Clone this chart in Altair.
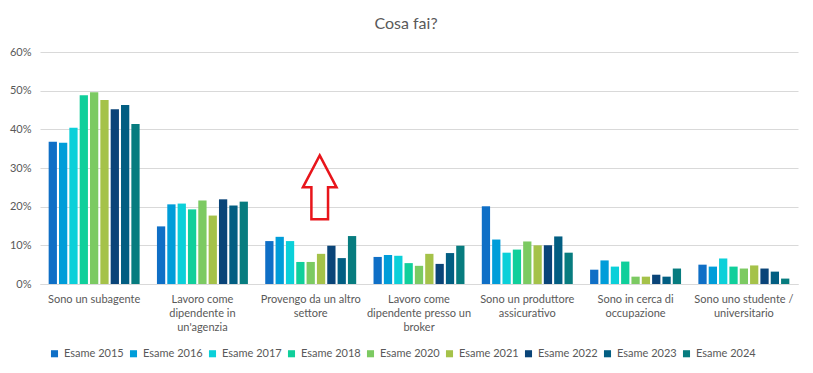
import altair as alt
import pandas as pd

categories = [
    "Sono un subagente",
    "Lavoro come|dipendente in|un'agenzia",
    "Provengo da un altro|settore",
    "Lavoro come|dipendente presso un|broker",
    "Sono un produttore|assicurativo",
    "Sono in cerca di|occupazione",
    "Sono uno studente /|universitario",
]
years = ["Esame 2015", "Esame 2016", "Esame 2017", "Esame 2018", "Esame 2020",
         "Esame 2021", "Esame 2022", "Esame 2023", "Esame 2024"]
colors = ["#0F6FC6", "#009DD9", "#0BD0D9", "#10CF9B", "#7CCA62",
          "#A5C249", "#0A4478", "#025E82", "#077C7F"]
y_ticks = [0, 0.1, 0.2, 0.3, 0.4, 0.5, 0.6]

# values per category, one per year (fraction)
v_subagente = [0.368, 0.365, 0.404, 0.488, 0.496, 0.476, 0.452, 0.463, 0.414]
v_agenzia = [0.149, 0.206, 0.208, 0.193, 0.216, 0.177, 0.219, 0.203, 0.213]
v_altro = [0.111, 0.122, 0.111, 0.057, 0.057, 0.078, 0.099, 0.067, 0.124]
v_broker = [0.070, 0.075, 0.073, 0.054, 0.047, 0.078, 0.052, 0.080, 0.099]
v_produttore = [0.201, 0.115, 0.081, 0.089, 0.110, 0.100, 0.100, 0.123, 0.081]
v_cerca = [0.037, 0.061, 0.045, 0.058, 0.019, 0.019, 0.024, 0.019, 0.040]
v_studente = [0.050, 0.045, 0.066, 0.045, 0.040, 0.048, 0.040, 0.032, 0.014]

all_values = [v_subagente, v_agenzia, v_altro, v_broker, v_produttore, v_cerca, v_studente]

rows = []
for cat, vals in zip(categories, all_values):
    for yr, v in zip(years, vals):
        rows.append({"category": cat, "year": yr, "value": v})
df = pd.DataFrame(rows)

arrow_df = pd.DataFrame([{"category": categories[2], "value": 0.25}])

x_scale = alt.Scale(domain=categories, paddingInner=0.16, paddingOuter=0.08)
y_scale = alt.Scale(domain=[0, 0.6], nice=False)

x_axis = alt.Axis(labelExpr="split(datum.label, '|')", labelAngle=0,
                  labelLineHeight=14, labelPadding=9, ticks=False,
                  domain=True, domainColor="#D9D9D9", labelBaseline="top")
y_axis = alt.Axis(values=y_ticks, format=".0%", domain=False, ticks=False,
                  labelPadding=9, gridColor="#D9D9D9", labelOverlap=False)

bars = alt.Chart(df).mark_bar().encode(
    x=alt.X("category:N", scale=x_scale, sort=categories, title=None, axis=x_axis),
    xOffset=alt.XOffset("year:N", sort=years, scale=alt.Scale(paddingInner=0.2)),
    y=alt.Y("value:Q", scale=y_scale, title=None, axis=y_axis),
    color=alt.Color("year:N", sort=years, scale=alt.Scale(domain=years, range=colors),
                    legend=alt.Legend(title=None, orient="none", direction="horizontal",
                                      columns=9, legendX=9, legendY=296,
                                      symbolType="square", symbolSize=50,
                                      symbolStrokeWidth=0, labelOffset=4,
                                      columnPadding=4)),
)

arrow = alt.Chart(arrow_df).mark_point(
    shape="M0,-1 L0.525,0 L0.26,0 L0.26,1 L-0.26,1 L-0.26,0 L-0.525,0 Z",
    size=4096, filled=False, stroke="#E8151B", strokeWidth=2.5, opacity=1,
    xOffset=9,
).encode(
    x=alt.X("category:N", scale=x_scale, sort=categories, title=None, axis=x_axis),
    y=alt.Y("value:Q", scale=y_scale, title=None, axis=y_axis),
)

chart = alt.layer(bars, arrow).properties(
    width=758, height=232,
    title=alt.TitleParams("Cosa fai?", fontSize=16, color="#595959", font="Lato",
                          fontWeight="normal", dx=-13, offset=14),
    autosize=alt.AutoSizeParams(type="none"),
    padding={"left": 32, "top": 44, "right": 7, "bottom": 78},
).configure_view(stroke=None).configure_axis(
    labelFont="Lato", labelFontSize=11, labelColor="#595959"
).configure_legend(
    labelFont="Lato", labelFontSize=11, labelColor="#595959"
)

chart.save("out.html", embed_options={"renderer": "svg", "actions": False})
